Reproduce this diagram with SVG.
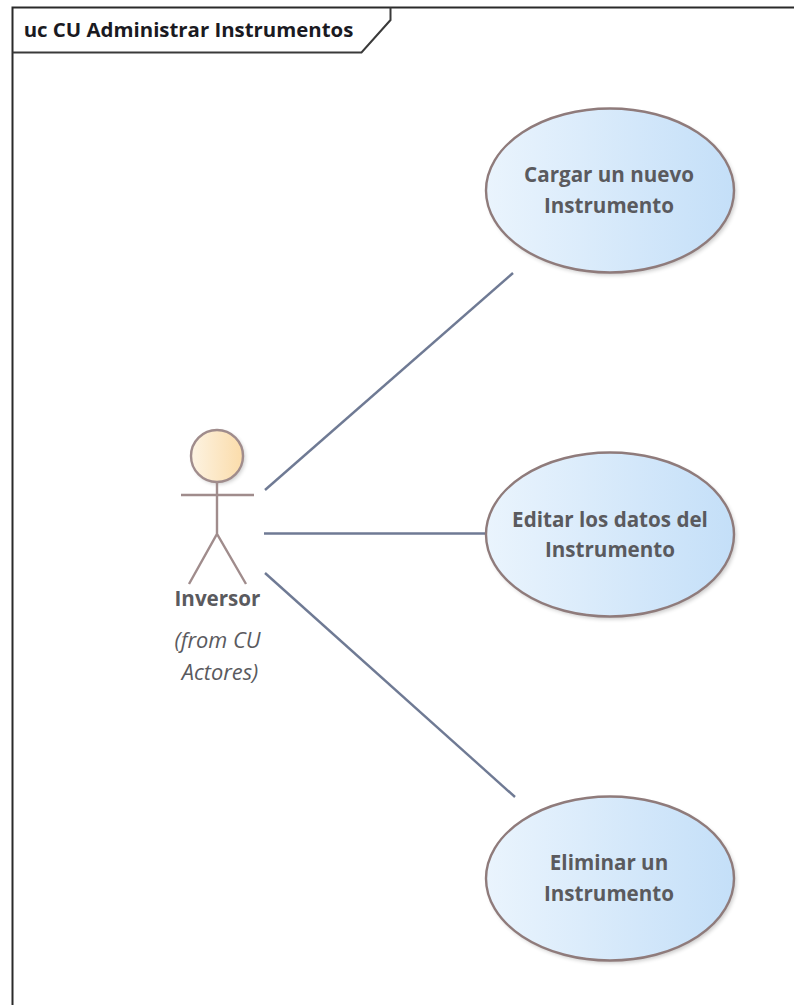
<svg xmlns="http://www.w3.org/2000/svg" width="794" height="1005" viewBox="0 0 794 1005">
<style>
text{font-family:"Open Sans","Liberation Sans",sans-serif;fill:#5a5a5e;text-anchor:middle;font-size:20.600px;font-weight:700}
.it{font-style:italic;font-weight:400;font-size:21.800px}
.uc{fill:url(#b);stroke:#8f7b7b;stroke-width:2.400}
.sh{fill:#000;opacity:.22;filter:url(#blur)}
.st{stroke:#a08c8c;stroke-width:2.400;fill:none}
.c{stroke:#6f7a94;stroke-width:2.400;fill:none}
</style>
<defs>
<linearGradient id="b"><stop offset="0" stop-color="#eaf4fd"/><stop offset="1" stop-color="#c4dff8"/></linearGradient>
<linearGradient id="o"><stop offset="0" stop-color="#fdf3e2"/><stop offset="1" stop-color="#fbdcaa"/></linearGradient>
<filter id="blur" x="-10%" y="-10%" width="120%" height="120%"><feGaussianBlur stdDeviation="2"/></filter>
</defs>
<rect width="794" height="1005" fill="#fff"/>
<g id="frame">
<path d="M12.500 1005V7.500H794" fill="none" stroke="#2a2a2a" stroke-width="2"/>
<path d="M12.500 52.500H361.500L390.500 20V7.500" fill="none" stroke="#3a3a3a" stroke-width="2"/>
<text x="188.500" y="37" style="fill:#1a1a22;font-size:20.400px">uc CU Administrar Instrumentos</text>
</g>
<g id="connectors">
<line class="c" x1="265" y1="490" x2="513" y2="273"/>
<line class="c" x1="264" y1="533.500" x2="486" y2="533.500"/>
<line class="c" x1="265" y1="573" x2="515" y2="797"/>
</g>
<g id="actor">
<circle class="sh" cx="219" cy="458" r="26"/>
<circle cx="217" cy="456" r="26" fill="url(#o)" stroke="#a08c8c" stroke-width="2.400"/>
<path class="st" d="M217 482V534M181 495H254M189 584L217 534L246 584"/>
<text x="217.500" y="606">Inversor</text>
<text x="217.500" y="648" class="it">(from CU</text>
<text x="220" y="680" class="it">Actores)</text>
</g>
<g id="uc1">
<ellipse class="sh" cx="612" cy="193" rx="124" ry="82"/>
<ellipse class="uc" cx="610" cy="190.500" rx="124" ry="82"/>
<text x="609" y="182">Cargar un nuevo</text>
<text x="609" y="213">Instrumento</text>
</g>
<g id="uc2">
<ellipse class="sh" cx="612" cy="537" rx="124" ry="82"/>
<ellipse class="uc" cx="610" cy="534.500" rx="124" ry="82"/>
<text x="610" y="527">Editar los datos del</text>
<text x="610" y="557">Instrumento</text>
</g>
<g id="uc3">
<ellipse class="sh" cx="612" cy="881" rx="124" ry="82"/>
<ellipse class="uc" cx="610" cy="878.500" rx="124" ry="82"/>
<text x="609" y="870">Eliminar un</text>
<text x="609" y="901">Instrumento</text>
</g>
</svg>
